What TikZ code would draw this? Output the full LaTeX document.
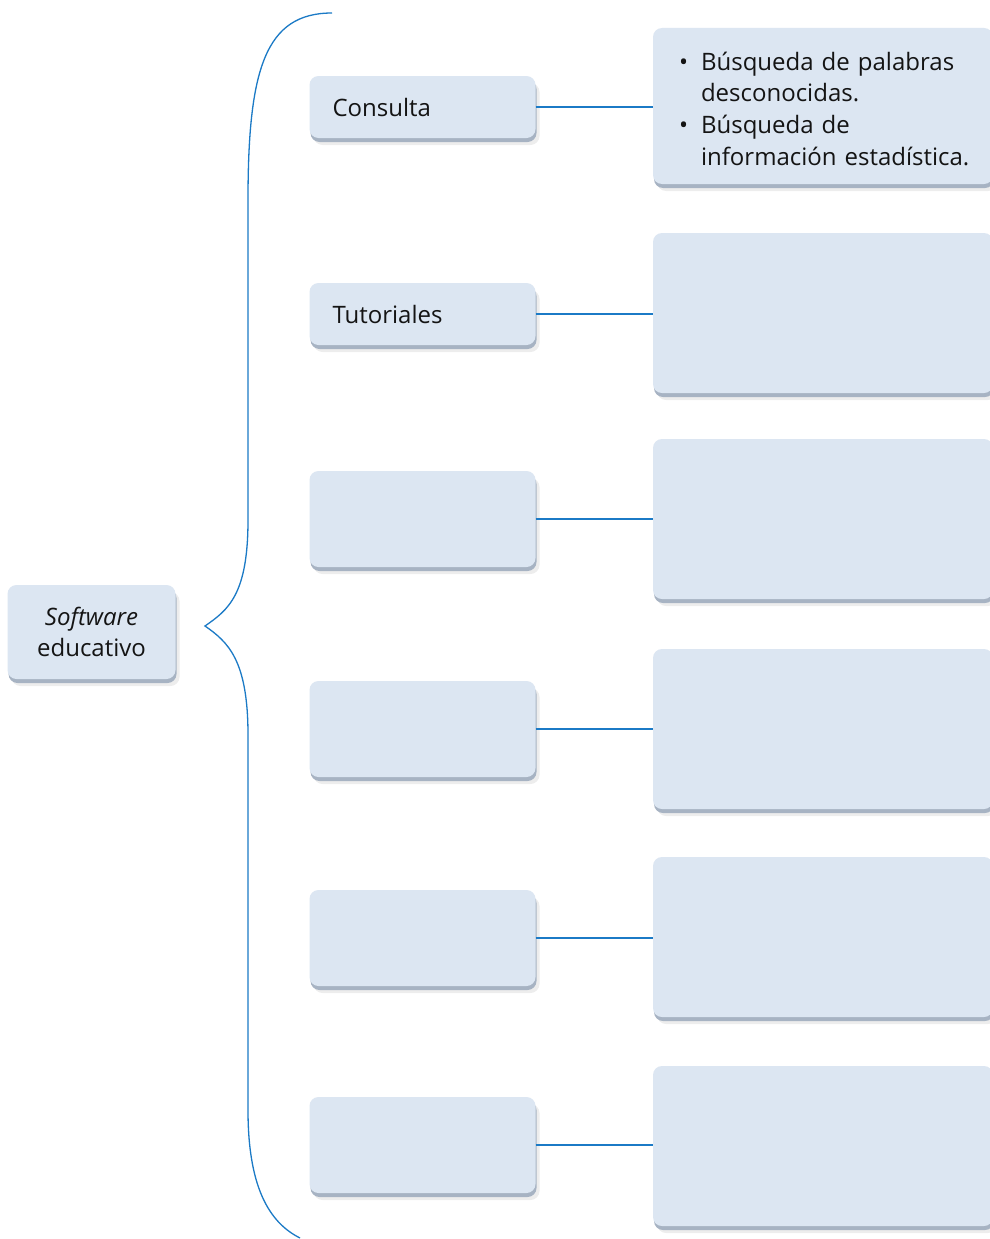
\documentclass[tikz,border=0pt]{standalone}
\usepackage{fontspec}
\setmainfont{Open Sans}
\usetikzlibrary{shadows}
\definecolor{boxfill}{HTML}{DCE6F2}
\definecolor{boxedge}{HTML}{A7B3C3}
\definecolor{bracecol}{HTML}{1B7AC6}
\tikzset{
  box/.style={rounded corners=9pt, fill=boxfill, draw=none, inner sep=0pt,
    general shadow={fill=black, opacity=0.07, shadow xshift=4pt, shadow yshift=-7pt},
    general shadow={fill=boxedge, shadow xshift=1pt, shadow yshift=-4pt},
    font=\fontsize{24}{31.7}\selectfont, text=black!92},
  leftbox/.style={box, minimum width=226pt, text width=180pt, align=left},
  rightbox/.style={box, minimum width=340pt, text width=288pt, align=left},
  conn/.style={draw=bracecol, line width=1.1pt},
  bracepath/.style={draw=bracecol, line width=1.3pt},
}
\begin{document}
\begin{tikzpicture}[x=1pt,y=1pt]
\useasboundingbox (0,0) rectangle (990,-1239);
\fill[white] (0,0) rectangle (990,-1239);
% root
\node[box, minimum width=168pt, minimum height=94pt, align=center] (root) at (91.5,-632)
  {\textit{Software}\\educativo};
% left column
\node[leftbox, minimum height=62pt] (l1) at (422.5,-107) {Consulta};
\node[leftbox, minimum height=62pt] (l2) at (422.5,-314) {Tutoriales};
\node[leftbox, minimum height=96pt] (l3) at (422.5,-519) {};
\node[leftbox, minimum height=96pt] (l4) at (422.5,-729) {};
\node[leftbox, minimum height=96pt] (l5) at (422.5,-938) {};
\node[leftbox, minimum height=96pt] (l6) at (422.5,-1145) {};
% right column
\node[rightbox, minimum height=156pt] (r1) at (823,-106)
  {\begin{tabular}{@{}l@{\hspace{13pt}}l@{}}
   \rule{0pt}{33pt}\textbullet & Búsqueda de palabras\\
   & desconocidas.\\
   \textbullet & Búsqueda de\\
   & información estadística.
   \end{tabular}};
\node[rightbox, minimum height=160pt] (r2) at (823,-313) {};
\node[rightbox, minimum height=160pt] (r3) at (823,-519) {};
\node[rightbox, minimum height=160pt] (r4) at (823,-729) {};
\node[rightbox, minimum height=160pt] (r5) at (823,-937) {};
\node[rightbox, minimum height=160pt] (r6) at (823,-1146) {};
% connectors
\foreach \i in {1,...,6}{
  \draw[conn] (l\i.east) -- (l\i.east -| r\i.west);
}
% brace
\coordinate (btop) at (332,-13);
\coordinate (btip) at (205,-626);
\coordinate (bbot) at (300,-1238);
\draw[bracepath] (btop) .. controls (265,-13) and (248,-70) .. (248,-200)
  -- (248,-520) .. controls (248,-595) and (228,-610) .. (btip)
  .. controls (228,-642) and (248,-660) .. (248,-735)
  -- (248,-1110) .. controls (248,-1185) and (268,-1222) .. (bbot);
\end{tikzpicture}
\end{document}
